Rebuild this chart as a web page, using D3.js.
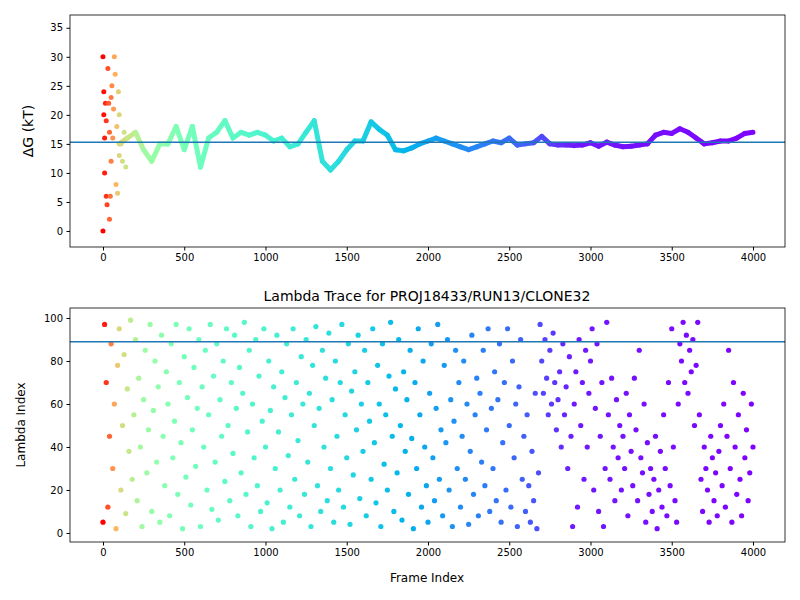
<!DOCTYPE html>
<html><head><meta charset="utf-8">
<script src="https://cdn.jsdelivr.net/npm/d3@7"></script>
<style>body{margin:0;background:#fff}svg{font-family:"DejaVu Sans",sans-serif}</style>
</head><body><svg id="c" width="800" height="600"></svg>
<script>
// ΔG trace (frames 100..4000 every 50)
const dgFrames = d3.range(100, 4001, 50);
const dgValues = [15,16,17,14,12,15,15,18,14,18,11,16,17,19,16,17,16.5,17,16.5,15.5,16,14.5,15,17,19,
12,10.5,12,14,15.5,15.5,18.8,17.5,16.5,14,13.8,14.3,15,15.5,16,15.5,15,14.5,14,14.5,
15,15.5,15.2,16,14.8,15,15.2,16.3,15,14.8,14.8,14.7,14.8,15.2,14.6,15.3,14.8,14.5,14.6,14.8,
15,16.5,17,16.8,17.6,17,16,15,15.2,15.5,15.5,16,16.8,17];
// early scattered ΔG estimates
const earlyFrames = [0,0,5,5,10,10,15,20,20,25,30,35,40,40,45,50,50,55,60,65,70,75,80,85,90,95,100,100,110,120,130,140];
const earlyValues = [0,30,24,20,16,10,22,6,19,4.5,28,22,2,17,6,23,12,25,16,21,30,27,8,18,6.5,24,13,20,15,12,17,11];
const dgRef = 15.3;
// lambda index every 10 frames
const lamFrames = d3.range(0, 4001, 10);
const lamValues = [5,97,70,12,45,88,30,60,2,78,95,20,50,83,9,67,38,99,25,55,
90,15,72,40,3,62,85,28,48,97,10,57,80,33,68,5,92,45,22,75,
60,8,88,35,52,97,18,70,42,2,82,26,63,95,13,48,77,31,58,90,
3,68,40,85,20,55,97,11,73,33,88,6,62,45,80,24,95,50,15,70,
37,92,58,8,77,28,65,98,18,47,85,3,60,35,90,22,73,10,52,95,
40,14,80,57,2,68,30,92,47,20,75,5,63,88,36,12,55,95,25,70,
43,8,82,60,18,90,33,65,3,78,50,96,22,58,10,85,40,72,15,93,
30,62,5,80,45,20,70,97,12,55,35,88,4,66,27,75,48,92,16,60,
38,85,8,70,52,25,95,42,14,78,60,3,88,32,55,20,73,98,45,10,
67,28,90,50,6,75,38,62,18,85,44,2,70,30,95,55,12,80,40,22,
5,65,88,35,15,58,97,25,48,8,78,42,90,20,62,3,52,85,30,70,
12,45,80,25,60,4,38,92,18,55,72,8,65,33,85,22,48,95,10,58,
30,75,15,62,88,5,42,70,20,95,50,12,80,35,60,3,68,90,25,45,
10,55,22,5,38,15,65,2,28,97,80,65,90,72,55,85,60,93,70,48,
62,75,40,88,55,68,30,82,45,3,60,75,12,90,50,70,25,85,40,65,
80,95,20,58,88,10,45,70,3,30,98,55,25,72,40,15,62,35,50,20,
45,30,65,8,55,38,22,72,48,15,85,35,28,60,5,42,18,30,10,25,
45,2,20,38,12,55,30,8,70,22,95,40,15,5,60,88,80,98,70,92,
65,85,75,90,50,78,98,55,25,10,40,30,20,5,45,35,15,28,8,38,
50,22,60,12,45,85,30,5,70,40,18,55,25,8,65,35,48,15,28,60,40];
const lamRef = 89;
const xTicks = [0,500,1000,1500,2000,2500,3000,3500,4000];
const dgTicks = [0,5,10,15,20,25,30,35];
const lamTicks = [0,20,40,60,80,100];

function rainbow(t){const c=v=>Math.max(0,Math.min(1,v));
  const r=c(Math.abs(2*t-0.5)),g=c(Math.sin(Math.PI*t)),b=c(Math.cos(Math.PI*t/2));
  return d3.rgb(r*255,g*255,b*255).toString();}
const tScale=d3.scaleLinear().domain([0,30,100,250,500,800,1500,2000,2600,2900,4000]).range([1,0.9,0.68,0.56,0.48,0.43,0.32,0.22,0.12,0.03,0]).clamp(true);
const col = f => rainbow(tScale(f));

const svg=d3.select("#c");
const L=70,R=785;
const x=d3.scaleLinear().domain([-203,4197]).range([L,R]);
const y1=d3.scaleLinear().domain([-2.76,37.2]).range([247,15]);
const y2=d3.scaleLinear().domain([-4.2,104.65]).range([542,308]);

function axes(y,top,bot,ticks){
  const g=svg.append("g");
  g.append("g").attr("transform",`translate(0,${bot})`).call(d3.axisBottom(x).tickValues(xTicks).tickFormat(d3.format("d")).tickSize(3.5).tickPadding(3.5));
  g.append("g").attr("transform",`translate(${L},0)`).call(d3.axisLeft(y).tickValues(ticks).tickFormat(d3.format("d")).tickSize(3.5).tickPadding(3.5));
  g.selectAll(".domain").remove();
  g.selectAll("text").attr("font-size",10).attr("fill","#000").attr("font-family","DejaVu Sans");
  g.append("rect").attr("x",L).attr("y",top).attr("width",R-L).attr("height",bot-top).attr("fill","none").attr("stroke","#000").attr("stroke-width",0.8);
}
// top
const g1=svg.append("g");
const pts=dgFrames.map((f,i)=>[f,dgValues[i]]);
for(let i=0;i<pts.length-1;i++){
  g1.append("line").attr("x1",x(pts[i][0])).attr("y1",y1(pts[i][1])).attr("x2",x(pts[i+1][0])).attr("y2",y1(pts[i+1][1]))
   .attr("stroke",col(pts[i][0])).attr("stroke-width",5).attr("stroke-linecap","round");
}
earlyFrames.forEach((f,i)=>g1.append("circle").attr("cx",x(f)).attr("cy",y1(earlyValues[i])).attr("r",2.5).attr("fill",col(f)));
g1.append("line").attr("x1",L).attr("x2",R).attr("y1",y1(dgRef)).attr("y2",y1(dgRef)).attr("stroke","#1f77b4").attr("stroke-width",1.5);
axes(y1,15,247,dgTicks);
svg.append("text").attr("transform","translate(33,131) rotate(-90)").attr("text-anchor","middle").attr("font-size",14).text("ΔG (kT)");
// bottom
const g2=svg.append("g");
lamFrames.forEach((f,i)=>g2.append("circle").attr("cx",x(f)).attr("cy",y2(lamValues[i])).attr("r",2.6).attr("fill",col(f)));
g2.append("line").attr("x1",L).attr("x2",R).attr("y1",y2(lamRef)).attr("y2",y2(lamRef)).attr("stroke","#1f77b4").attr("stroke-width",1.5);
axes(y2,308,542,lamTicks);
svg.append("text").attr("x",427).attr("y",301).attr("text-anchor","middle").attr("font-size",14).text("Lambda Trace for PROJ18433/RUN13/CLONE32");
svg.append("text").attr("x",427).attr("y",582).attr("text-anchor","middle").attr("font-size",12).text("Frame Index");
svg.append("text").attr("transform","translate(25,425) rotate(-90)").attr("text-anchor","middle").attr("font-size",12).text("Lambda Index");
</script></body></html>
